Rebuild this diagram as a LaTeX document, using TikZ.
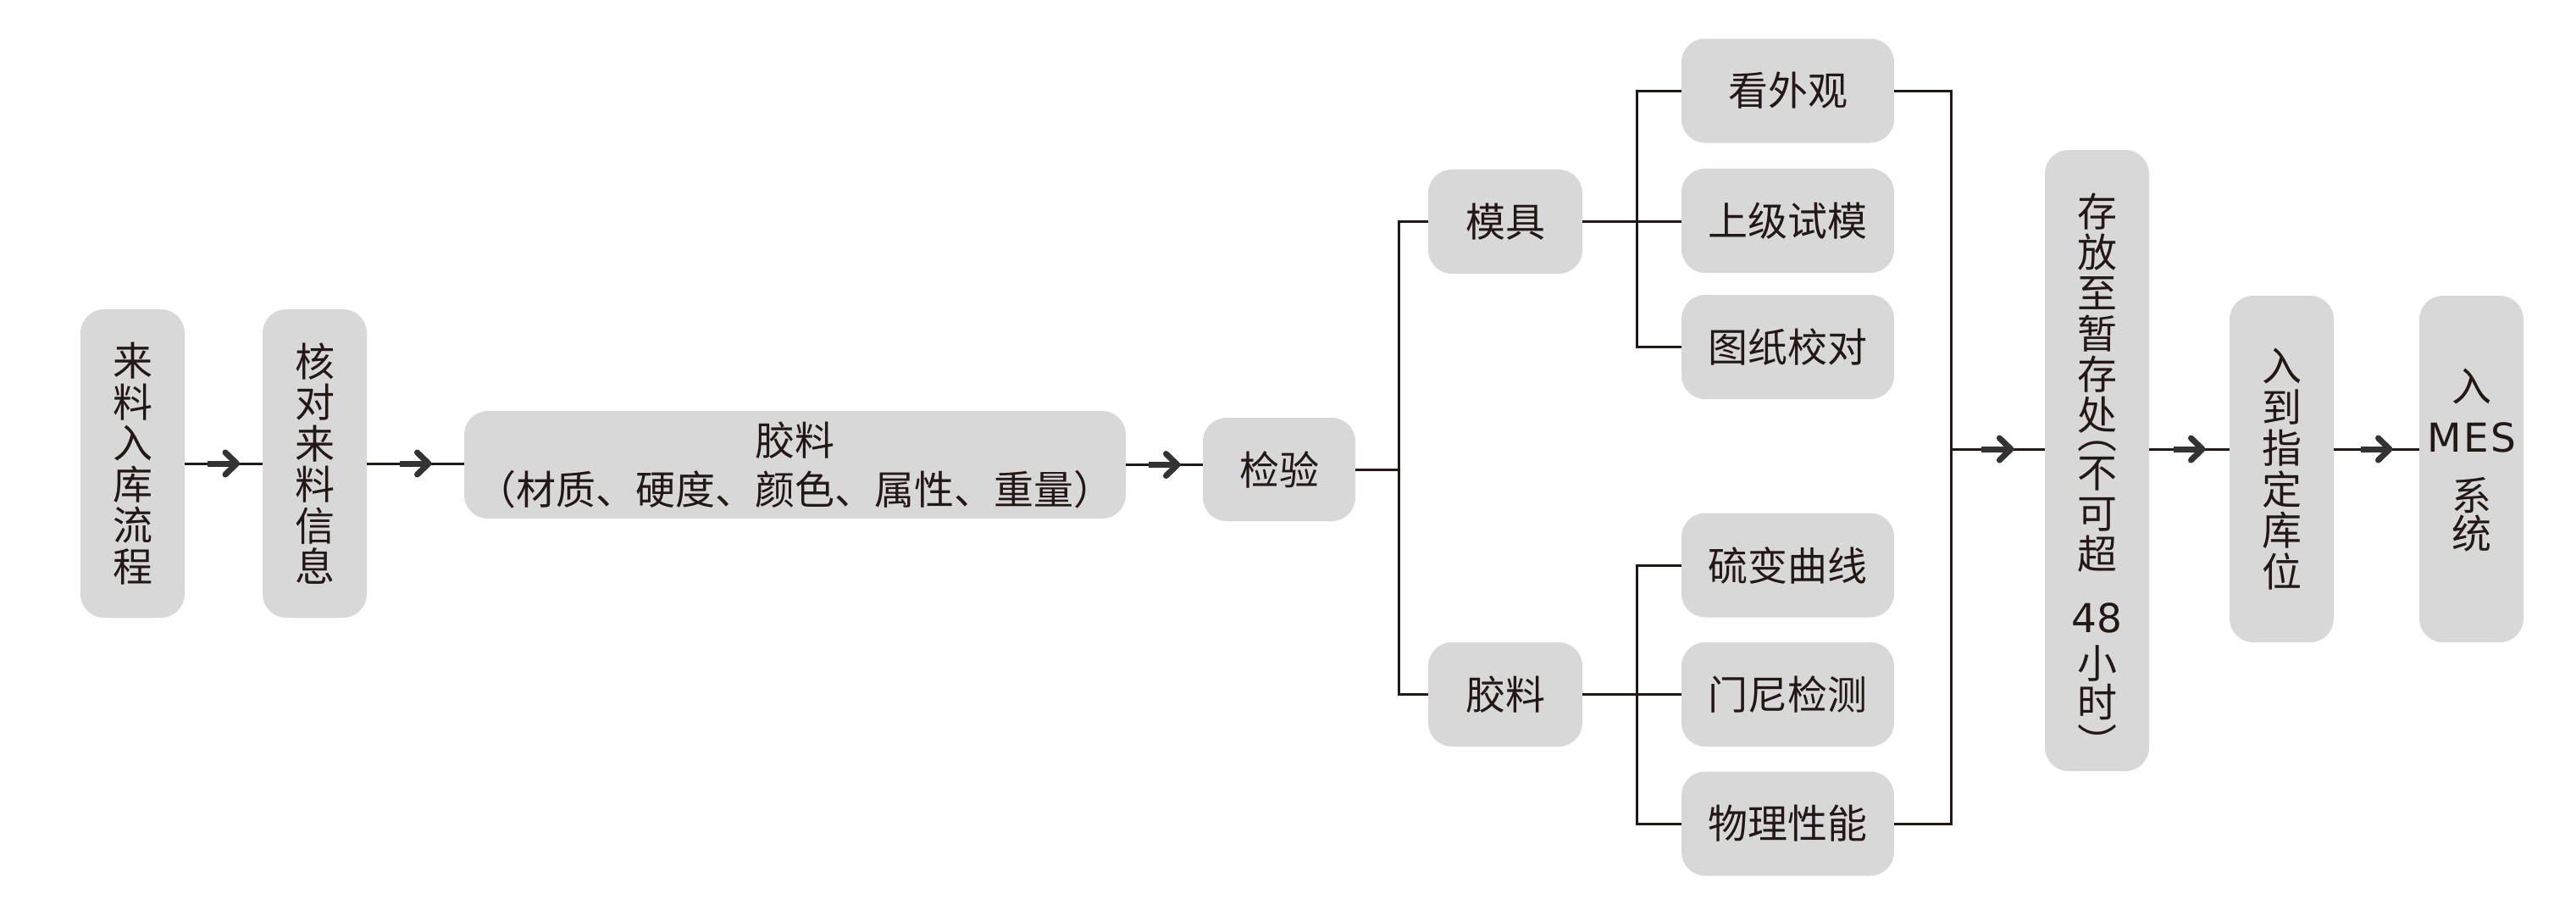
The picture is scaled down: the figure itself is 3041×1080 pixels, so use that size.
\documentclass[tikz,border=0pt]{standalone}
\usepackage{fontspec}
\newfontfamily\cjk{Noto Sans CJK SC}
\newfontfamily\latinfont{DejaVu Sans}
\usetikzlibrary{decorations.markings}
\definecolor{ink}{HTML}{231815}
\definecolor{boxgray}{HTML}{D8D8D8}
\definecolor{arrowgray}{HTML}{333333}
\newcommand\boxfont[1]{\cjk\fontsize{47}{#1}\selectfont\lineskiplimit=-200pt\relax}
\begin{document}
\begin{tikzpicture}[x=1pt,y=-1pt,
  box/.style={fill=boxgray, rounded corners=28pt, inner sep=0pt, text=ink, align=center,
    font={\boxfont{48.5}}},
  vbox/.style={box, minimum width=123pt},
  hbox/.style={box, minimum height=123pt},
  conn/.style={draw=ink, line width=3pt},
  flow/.style={conn, postaction={decorate}, decoration={markings, mark=at position 0.5 with {
      \draw[arrowgray, line width=7pt] (-19,0) -- (14,0);
      \draw[arrowgray, line width=7pt, line cap=round, line join=round] (2,-13) -- (15.5,0) -- (2,13);}}}
]
\fill[white] (0,0) rectangle (3041,1080);
\useasboundingbox (0,0) rectangle (3041,1080);

% main chain
\node[vbox, minimum height=364pt] (b1) at (156.5,547) {来\\料\\入\\库\\流\\程};
\node[vbox, minimum height=364pt] (b2) at (371.5,547) {核\\对\\来\\料\\信\\息};
\node[box, minimum width=781pt, minimum height=127pt, font={\boxfont{58}}] (b3) at (938.5,548.5) {胶料\\（材质、硬度、颜色、属性、重量）};
\node[box, minimum width=180pt, minimum height=122pt] (b4) at (1510,554) {检验};

% branches
\node[hbox, minimum width=182pt] (m1) at (1777,261.5) {模具};
\node[hbox, minimum width=182pt] (m2) at (1777,819.5) {胶料};

\node[hbox, minimum width=251pt] (r1) at (2110.5,107) {看外观};
\node[hbox, minimum width=251pt] (r2) at (2110.5,260.5) {上级试模};
\node[hbox, minimum width=251pt] (r3) at (2110.5,409.5) {图纸校对};
\node[hbox, minimum width=251pt] (r4) at (2110.5,667) {硫变曲线};
\node[hbox, minimum width=251pt] (r5) at (2110.5,819.5) {门尼检测};
\node[hbox, minimum width=251pt] (r6) at (2110.5,972) {物理性能};

% right chain
\node[vbox, minimum height=733pt, font={\boxfont{48}}] (s1) at (2475.5,543.5)
  {\rule{0pt}{90pt}存\\放\\至\\暂\\存\\处\\[-26pt]︵\\[-2pt]不\\可\\超\\[27pt]{\latinfont 48}\\[6pt]小\\[-2pt]时\\[0pt]︶\rule[-16pt]{0pt}{16pt}};
\node[vbox, minimum height=409pt] (s2) at (2693.5,553.5) {入\\到\\指\\定\\库\\位};
\node[vbox, minimum height=409pt] (s3) at (2917.5,553.5)
  {\rule{0pt}{60pt}入\\[11.5pt]{\latinfont\addfontfeature{LetterSpace=5}MES}\\[20.5pt]系\\[-3.5pt]统\rule[-46pt]{0pt}{46pt}};

% connectors
\draw[flow] (b1.east) -- (b2.west);
\draw[flow] (b2.east) -- (b2.east -| b3.west);
\draw[flow] (b3.east) -- (b3.east -| b4.west);

\coordinate (f1) at (1651,554);
\draw[conn] (b4.east) -- (f1);
\draw[conn] (m1.west) -| (f1) |- (m2.west);

\coordinate (f2) at (1932,261.5);
\coordinate (f3) at (1932,819.5);
\draw[conn] (m1.east) -- (m1.east -| r2.west);
\draw[conn] (r1.west) -| (f2) |- (r3.west);
\draw[conn] (m2.east) -- (m2.east -| r5.west);
\draw[conn] (r4.west) -| (f3) |- (r6.west);

\coordinate (j) at (2303,530);
\draw[conn] (r1.east) -| (j) |- (r6.east);
\draw[flow] (j) -- (j -| s1.west);
\draw[flow] (s1.east |- j) -- (s2.west |- j);
\draw[flow] (s2.east |- j) -- (s3.west |- j);
\end{tikzpicture}
\end{document}
